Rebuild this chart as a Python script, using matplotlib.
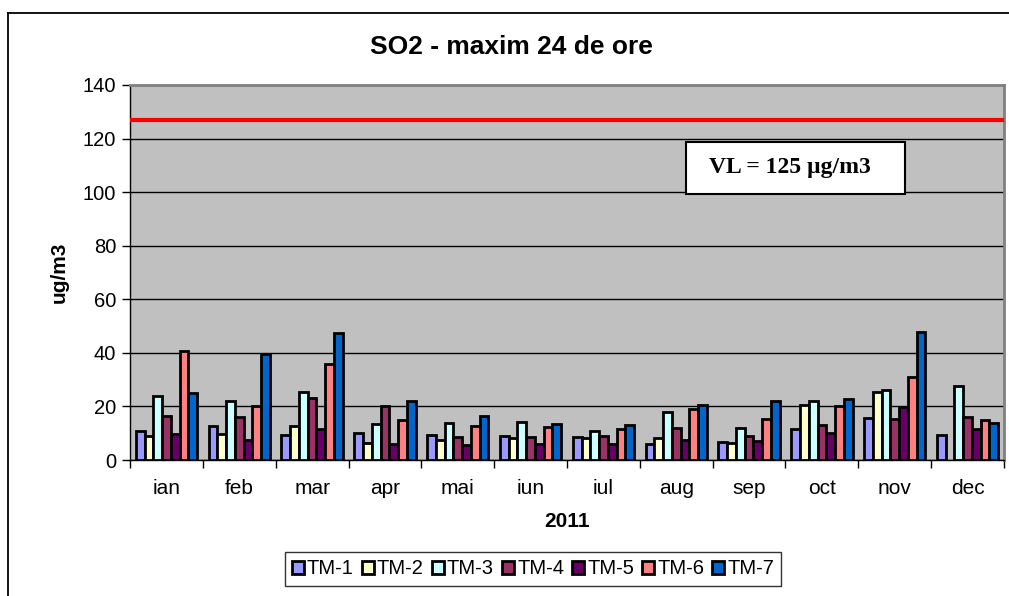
import numpy as np
import matplotlib.pyplot as plt
from matplotlib.patches import Rectangle
from matplotlib.lines import Line2D

# Data
months = ['ian', 'feb', 'mar', 'apr', 'mai', 'iun', 'iul', 'aug', 'sep', 'oct', 'nov', 'dec']
stations = ['TM-1', 'TM-2', 'TM-3', 'TM-4', 'TM-5', 'TM-6', 'TM-7']
tm1 = [10.9, 12.6, 9.3, 10.1, 9.5, 9.0, 8.6, 6.0, 6.9, 11.5, 15.6, 9.5]
tm2 = [9.0, 9.6, 12.8, 6.3, 7.6, 8.4, 8.1, 8.3, 6.3, 20.4, 25.3, np.nan]
tm3 = [24.0, 22.0, 25.5, 13.4, 13.8, 14.3, 11.0, 18.0, 12.0, 22.1, 26.0, 27.5]
tm4 = [16.4, 16.0, 23.3, 20.1, 8.6, 8.6, 8.9, 11.8, 9.0, 12.9, 15.4, 16.0]
tm5 = [9.8, 7.5, 11.4, 6.0, 5.5, 5.8, 6.1, 7.4, 7.1, 9.9, 19.9, 11.5]
tm6 = [40.8, 20.0, 35.8, 14.8, 12.8, 12.3, 11.5, 18.9, 15.4, 20.1, 31.1, 15.1]
tm7 = [24.9, 39.6, 47.3, 21.9, 16.6, 13.5, 13.1, 20.4, 22.0, 22.8, 47.8, 13.9]
series = [tm1, tm2, tm3, tm4, tm5, tm6, tm7]
vl_line = 127

colors = ['#9999FF', '#FFFFCC', '#CCFFFF', '#993366', '#660066', '#FF8080', '#0066CC']

plt.rcParams['font.family'] = ['Liberation Sans', 'DejaVu Sans']

fig = plt.figure(figsize=(10.09, 5.96), dpi=100)
ax = fig.add_axes([130 / 1009, 1 - 460 / 596, 874 / 1009, 375 / 596])
ax.set_facecolor('#C0C0C0')

# outer chart frame (only top and left edges are inside the picture)
fig.lines.append(Line2D([8 / 1009, 8 / 1009], [0, 1 - 13 / 596], transform=fig.transFigure,
                        color='black', linewidth=1.3))
fig.lines.append(Line2D([8 / 1009, 1.0], [1 - 13 / 596, 1 - 13 / 596], transform=fig.transFigure,
                        color='black', linewidth=1.3))

x = np.arange(len(months))
w = 0.12
for i, (name, vals) in enumerate(zip(stations, series)):
    ax.bar(x + (i - 3) * w, vals, width=w, color=colors[i], edgecolor='black',
           linewidth=2, label=name, zorder=3)

ax.axhline(vl_line, color='#FF0000', linewidth=3, zorder=4)

ax.set_xlim(-0.5, len(months) - 0.5)
ax.set_ylim(0, 140)
ax.set_yticks(np.arange(0, 141, 20))
ax.yaxis.grid(True, color='black', linewidth=1, zorder=1)
ax.set_axisbelow(True)

ax.set_xticks(x)
ax.set_xticklabels(months)
ax.set_xticks(np.arange(-0.5, len(months), 1), minor=True)
ax.tick_params(axis='x', which='major', length=0, pad=14, labelsize=15)
ax.tick_params(axis='x', which='minor', length=6, direction='out', width=1)
ax.tick_params(axis='y', length=6, direction='out', width=1, labelsize=14.5, pad=4)

for s in ['top', 'right']:
    ax.spines[s].set_color('#808080')
    ax.spines[s].set_linewidth(2)
for s in ['left', 'bottom']:
    ax.spines[s].set_color('black')
    ax.spines[s].set_linewidth(1)

ax.set_xlabel('2011', fontsize=15, fontweight='bold', labelpad=10)
ax.set_ylabel('ug/m3', fontsize=15, fontweight='bold', labelpad=10)
fig.text(511 / 1009, 1 - 47 / 596, 'SO2 - maxim 24 de ore', fontsize=19,
         fontweight='bold', ha='center', va='center')

# VL box
fig.patches.append(Rectangle((686 / 1009, 1 - 194 / 596), 219 / 1009, 52 / 596,
                             transform=fig.transFigure, facecolor='white',
                             edgecolor='black', linewidth=1.5, zorder=5))
fig.text(790 / 1009, 1 - 168 / 596, 'VL = 125 µg/m3', fontsize=17, fontweight='bold',
         family=['Liberation Serif', 'DejaVu Serif'], ha='center', va='center', zorder=6)

leg = fig.legend(loc='center', bbox_to_anchor=(533 / 1009, 1 - 569 / 596), ncol=7,
                 fontsize=14.5, frameon=True, fancybox=False, edgecolor='black',
                 handlelength=0.6, handleheight=0.6, handletextpad=0.15,
                 columnspacing=0.4, borderpad=0.35)
leg.get_frame().set_linewidth(1)
for h in leg.legend_handles:
    h.set_linewidth(2)

fig.savefig('out.png', dpi=100)
